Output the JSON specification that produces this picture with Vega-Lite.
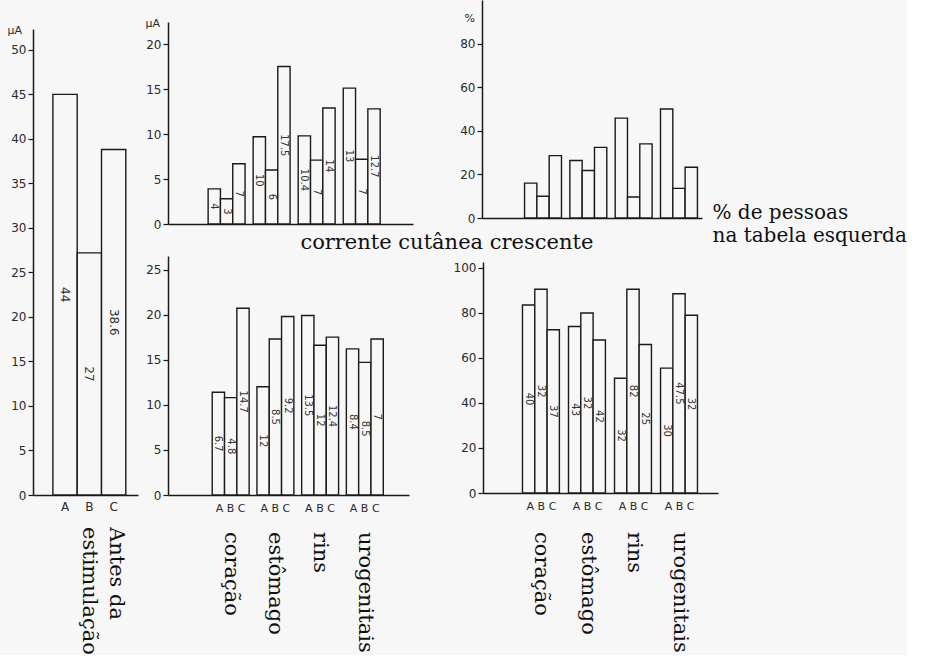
{
  "$schema": "https://vega.github.io/schema/vega-lite/v6.json",
  "background": "#f7f7f7",
  "padding": {"left": 7, "top": 0, "right": 0, "bottom": 0},
  "datasets": {
    "left": [
      {"g": "A", "v": 45, "lab": "44"},
      {"g": "B", "v": 27.2, "lab": "27"},
      {"g": "C", "v": 38.8, "lab": "38.6"}
    ],
    "tm": [
      {"organ": "coração", "s": "A", "v": 3.9, "lab": "4"},
      {"organ": "coração", "s": "B", "v": 2.8, "lab": "3"},
      {"organ": "coração", "s": "C", "v": 6.7, "lab": "7"},
      {"organ": "estômago", "s": "A", "v": 9.7, "lab": "10"},
      {"organ": "estômago", "s": "B", "v": 6.0, "lab": "6"},
      {"organ": "estômago", "s": "C", "v": 17.5, "lab": "17.5"},
      {"organ": "rins", "s": "A", "v": 9.8, "lab": "10.4"},
      {"organ": "rins", "s": "B", "v": 7.1, "lab": "7"},
      {"organ": "rins", "s": "C", "v": 12.9, "lab": "14"},
      {"organ": "urogenitais", "s": "A", "v": 15.1, "lab": "13"},
      {"organ": "urogenitais", "s": "B", "v": 7.2, "lab": "7"},
      {"organ": "urogenitais", "s": "C", "v": 12.8, "lab": "12.7"}
    ],
    "tr": [
      {"organ": "coração", "s": "A", "v": 16},
      {"organ": "coração", "s": "B", "v": 10},
      {"organ": "coração", "s": "C", "v": 28.6},
      {"organ": "estômago", "s": "A", "v": 26.4},
      {"organ": "estômago", "s": "B", "v": 21.8},
      {"organ": "estômago", "s": "C", "v": 32.4},
      {"organ": "rins", "s": "A", "v": 45.8},
      {"organ": "rins", "s": "B", "v": 9.6},
      {"organ": "rins", "s": "C", "v": 34},
      {"organ": "urogenitais", "s": "A", "v": 50},
      {"organ": "urogenitais", "s": "B", "v": 13.6},
      {"organ": "urogenitais", "s": "C", "v": 23.3}
    ],
    "bm": [
      {"organ": "coração", "s": "A", "v": 11.4, "lab": "6.7"},
      {"organ": "coração", "s": "B", "v": 10.8, "lab": "4.8"},
      {"organ": "coração", "s": "C", "v": 20.7, "lab": "14.7"},
      {"organ": "estômago", "s": "A", "v": 12, "lab": "12"},
      {"organ": "estômago", "s": "B", "v": 17.3, "lab": "8.5"},
      {"organ": "estômago", "s": "C", "v": 19.8, "lab": "9.2"},
      {"organ": "rins", "s": "A", "v": 19.9, "lab": "13.5"},
      {"organ": "rins", "s": "B", "v": 16.6, "lab": "12"},
      {"organ": "rins", "s": "C", "v": 17.5, "lab": "12.4"},
      {"organ": "urogenitais", "s": "A", "v": 16.2, "lab": "8.4"},
      {"organ": "urogenitais", "s": "B", "v": 14.7, "lab": "8.5"},
      {"organ": "urogenitais", "s": "C", "v": 17.3, "lab": "7"}
    ],
    "br": [
      {"organ": "coração", "s": "A", "v": 83.5, "lab": "40"},
      {"organ": "coração", "s": "B", "v": 90.5, "lab": "32"},
      {"organ": "coração", "s": "C", "v": 72.5, "lab": "37"},
      {"organ": "estômago", "s": "A", "v": 74, "lab": "43"},
      {"organ": "estômago", "s": "B", "v": 80, "lab": "32"},
      {"organ": "estômago", "s": "C", "v": 68, "lab": "42"},
      {"organ": "rins", "s": "A", "v": 51, "lab": "32"},
      {"organ": "rins", "s": "B", "v": 90.5, "lab": "82"},
      {"organ": "rins", "s": "C", "v": 66, "lab": "25"},
      {"organ": "urogenitais", "s": "A", "v": 55.5, "lab": "30"},
      {"organ": "urogenitais", "s": "B", "v": 88.5, "lab": "47.5"},
      {"organ": "urogenitais", "s": "C", "v": 79, "lab": "32"}
    ],
    "organs": [
      {"organ": "coração"},
      {"organ": "estômago"},
      {"organ": "rins"},
      {"organ": "urogenitais"}
    ]
  },
  "config": {
    "view": {"stroke": null},
    "axis": {
      "domainColor": "#1a1a1a", "domainWidth": 1.5,
      "tickColor": "#1a1a1a", "tickWidth": 1.2, "tickSize": 5,
      "labelFont": "DejaVu Sans", "labelFontSize": 12, "labelColor": "#2a2a2a", "labelPadding": 2,
      "grid": false,
      "titleFont": "DejaVu Sans", "titleFontWeight": "normal", "titleColor": "#2a2a2a"
    },
    "text": {"font": "DejaVu Sans", "fontSize": 10, "fill": "#333333"},
    "title": {"font": "DejaVu Serif", "fontWeight": "normal", "color": "#111111"}
  },
  "spacing": 7,
  "hconcat": [
    {
      "width": 105,
      "height": 495,
      "resolve": {"scale": {"y": "independent"}},
      "layer": [
        {
          "data": {"name": "left"},
          "mark": {"type": "bar", "fill": "#f7f7f7", "stroke": "#1a1a1a", "strokeWidth": 1.4},
          "encoding": {
            "x": {"field": "g", "type": "nominal", "sort": null,
              "scale": {"paddingInner": 0, "paddingOuter": 0.66, "align": 0.62},
              "axis": {"title": null, "labelAngle": 0, "ticks": false, "labelPadding": 6, "labelFontSize": 12}},
            "y": {"field": "v", "type": "quantitative",
              "scale": {"domain": [0, 55.6], "nice": false},
              "axis": {"values": [0, 5, 10, 15, 20, 25, 30, 35, 40, 45, 50], "title": "µA", "domainDash": [466, 100],
                "titleAngle": 0, "titleX": -26, "titleY": 24, "titleAlign": "left", "titleBaseline": "top", "titleFontSize": 11}}
          }
        },
        {
          "data": {"name": "left"},
          "mark": {"type": "text", "angle": 90, "fontSize": 12},
          "encoding": {
            "x": {"field": "g", "type": "nominal", "sort": null},
            "y": {"field": "v", "type": "quantitative", "scale": {"domain": [0, 111.2], "nice": false}, "axis": null},
            "text": {"field": "lab"}
          }
        },
        {
          "data": {"values": [{"t": "Antes da\nestimulação"}]},
          "mark": {"type": "text", "angle": 90, "align": "left", "baseline": "top", "lineBreak": "\n", "lineHeight": 27,
            "font": "DejaVu Serif", "fontSize": 21, "fill": "#111111", "dx": 32, "dy": -13},
          "encoding": {
            "x": {"datum": "C", "type": "nominal"},
            "y": {"datum": 0, "type": "quantitative", "scale": {"domain": [0, 1]}, "axis": null},
            "text": {"field": "t"}
          }
        }
      ]
    },
    {
      "spacing": -13,
      "vconcat": [
        {
          "spacing": 46,
          "hconcat": [
            {
              "width": 245,
              "height": 224,
              "resolve": {"scale": {"y": "independent"}},
              "layer": [
                {
                  "data": {"name": "tm"},
                  "mark": {"type": "bar", "fill": "#f7f7f7", "stroke": "#1a1a1a", "strokeWidth": 1.4},
                  "encoding": {
                    "x": {"field": "organ", "type": "nominal", "sort": null,
                      "scale": {"paddingInner": 0.18, "paddingOuter": 0.81, "align": 0.55},
                      "axis": {"title": null, "labels": false, "ticks": false}},
                    "xOffset": {"field": "s", "type": "nominal", "sort": null, "scale": {"paddingInner": 0, "paddingOuter": 0}},
                    "y": {"field": "v", "type": "quantitative",
                      "scale": {"domain": [0, 24.9], "nice": false},
                      "axis": {"values": [0, 5, 10, 15, 20], "title": "µA", "domainDash": [202, 100],
                        "titleAngle": 0, "titleX": -23, "titleY": 17, "titleAlign": "left", "titleBaseline": "top", "titleFontSize": 11}}
                  }
                },
                {
                  "data": {"name": "tm"},
                  "mark": {"type": "text", "angle": 90, "fontSize": 10},
                  "encoding": {
                    "x": {"field": "organ", "type": "nominal", "sort": null},
                    "xOffset": {"field": "s", "type": "nominal", "sort": null},
                    "y": {"field": "v", "type": "quantitative", "scale": {"domain": [0, 49.8], "nice": false}, "axis": null},
                    "text": {"field": "lab"}
                  }
                }
              ]
            },
            {
              "width": 220,
              "height": 218,
              "data": {"name": "tr"},
              "mark": {"type": "bar", "fill": "#f7f7f7", "stroke": "#1a1a1a", "strokeWidth": 1.4},
              "encoding": {
                "x": {"field": "organ", "type": "nominal", "sort": null,
                  "scale": {"paddingInner": 0.177, "paddingOuter": 0.516, "align": 0.91},
                  "axis": {"labels": false, "ticks": false,
                    "title": ["% de pessoas", "na tabela esquerda"],
                    "titleFont": "DejaVu Serif", "titleFontSize": 20, "titleColor": "#111111",
                    "titleAngle": 0, "titleAlign": "left", "titleBaseline": "top",
                    "titleX": 230, "titleY": -16, "titleLineHeight": 23}},
                "xOffset": {"field": "s", "type": "nominal", "sort": null, "scale": {"paddingInner": 0, "paddingOuter": 0}},
                "y": {"field": "v", "type": "quantitative",
                  "scale": {"domain": [0, 100], "nice": false},
                  "axis": {"values": [0, 20, 40, 60, 80], "title": "%",
                    "titleAngle": 0, "titleX": -18, "titleY": 12, "titleAlign": "left", "titleBaseline": "top", "titleFontSize": 11}}
              }
            }
          ]
        },
        {
          "title": {"text": "corrente cutânea crescente", "fontSize": 21, "offset": 3, "dx": 15, "anchor": "middle"},
          "spacing": 44,
          "hconcat": [
            {
              "width": 241,
              "height": 239,
              "resolve": {"scale": {"y": "independent"}},
              "layer": [
                {
                  "data": {"name": "bm"},
                  "mark": {"type": "bar", "fill": "#f7f7f7", "stroke": "#1a1a1a", "strokeWidth": 1.4},
                  "encoding": {
                    "x": {"field": "organ", "type": "nominal", "sort": null,
                      "scale": {"paddingInner": 0.18, "paddingOuter": 0.785, "align": 0.63},
                      "axis": {"title": null, "ticks": false, "labelExpr": "'A B C'", "labelAngle": 0, "labelPadding": 7, "labelFontSize": 11}},
                    "xOffset": {"field": "s", "type": "nominal", "sort": null, "scale": {"paddingInner": 0, "paddingOuter": 0}},
                    "y": {"field": "v", "type": "quantitative",
                      "scale": {"domain": [0, 26.5], "nice": false},
                      "axis": {"values": [0, 5, 10, 15, 20, 25], "title": null}}
                  }
                },
                {
                  "data": {"name": "bm"},
                  "mark": {"type": "text", "angle": 90, "fontSize": 10},
                  "encoding": {
                    "x": {"field": "organ", "type": "nominal", "sort": null},
                    "xOffset": {"field": "s", "type": "nominal", "sort": null},
                    "y": {"field": "v", "type": "quantitative", "scale": {"domain": [0, 53], "nice": false}, "axis": null},
                    "text": {"field": "lab"}
                  }
                },
                {
                  "data": {"name": "organs"},
                  "mark": {"type": "text", "angle": 90, "align": "left", "baseline": "middle",
                    "font": "DejaVu Serif", "fontSize": 21, "fill": "#111111", "dx": 37},
                  "encoding": {
                    "x": {"field": "organ", "type": "nominal", "sort": null},
                    "y": {"datum": 0, "type": "quantitative", "scale": {"domain": [0, 1]}, "axis": null},
                    "text": {"field": "organ"}
                  }
                }
              ]
            },
            {
              "width": 235,
              "height": 237,
              "resolve": {"scale": {"y": "independent"}},
              "layer": [
                {
                  "data": {"name": "br"},
                  "mark": {"type": "bar", "fill": "#f7f7f7", "stroke": "#1a1a1a", "strokeWidth": 1.4},
                  "encoding": {
                    "x": {"field": "organ", "type": "nominal", "sort": null,
                      "scale": {"paddingInner": 0.174, "paddingOuter": 0.64, "align": 0.67},
                      "axis": {"title": null, "ticks": false, "labelExpr": "'A B C'", "labelAngle": 0, "labelPadding": 7, "labelFontSize": 11}},
                    "xOffset": {"field": "s", "type": "nominal", "sort": null, "scale": {"paddingInner": 0, "paddingOuter": 0}},
                    "y": {"field": "v", "type": "quantitative",
                      "scale": {"domain": [0, 105.3], "nice": false},
                      "axis": {"values": [0, 20, 40, 60, 80, 100], "title": null, "domainDash": [231, 100]}}
                  }
                },
                {
                  "data": {"name": "br"},
                  "mark": {"type": "text", "angle": 90, "fontSize": 10},
                  "encoding": {
                    "x": {"field": "organ", "type": "nominal", "sort": null},
                    "xOffset": {"field": "s", "type": "nominal", "sort": null},
                    "y": {"field": "v", "type": "quantitative", "scale": {"domain": [0, 210.6], "nice": false}, "axis": null},
                    "text": {"field": "lab"}
                  }
                },
                {
                  "data": {"name": "organs"},
                  "mark": {"type": "text", "angle": 90, "align": "left", "baseline": "middle",
                    "font": "DejaVu Serif", "fontSize": 21, "fill": "#111111", "dx": 39},
                  "encoding": {
                    "x": {"field": "organ", "type": "nominal", "sort": null},
                    "y": {"datum": 0, "type": "quantitative", "scale": {"domain": [0, 1]}, "axis": null},
                    "text": {"field": "organ"}
                  }
                }
              ]
            }
          ]
        }
      ]
    }
  ]
}
